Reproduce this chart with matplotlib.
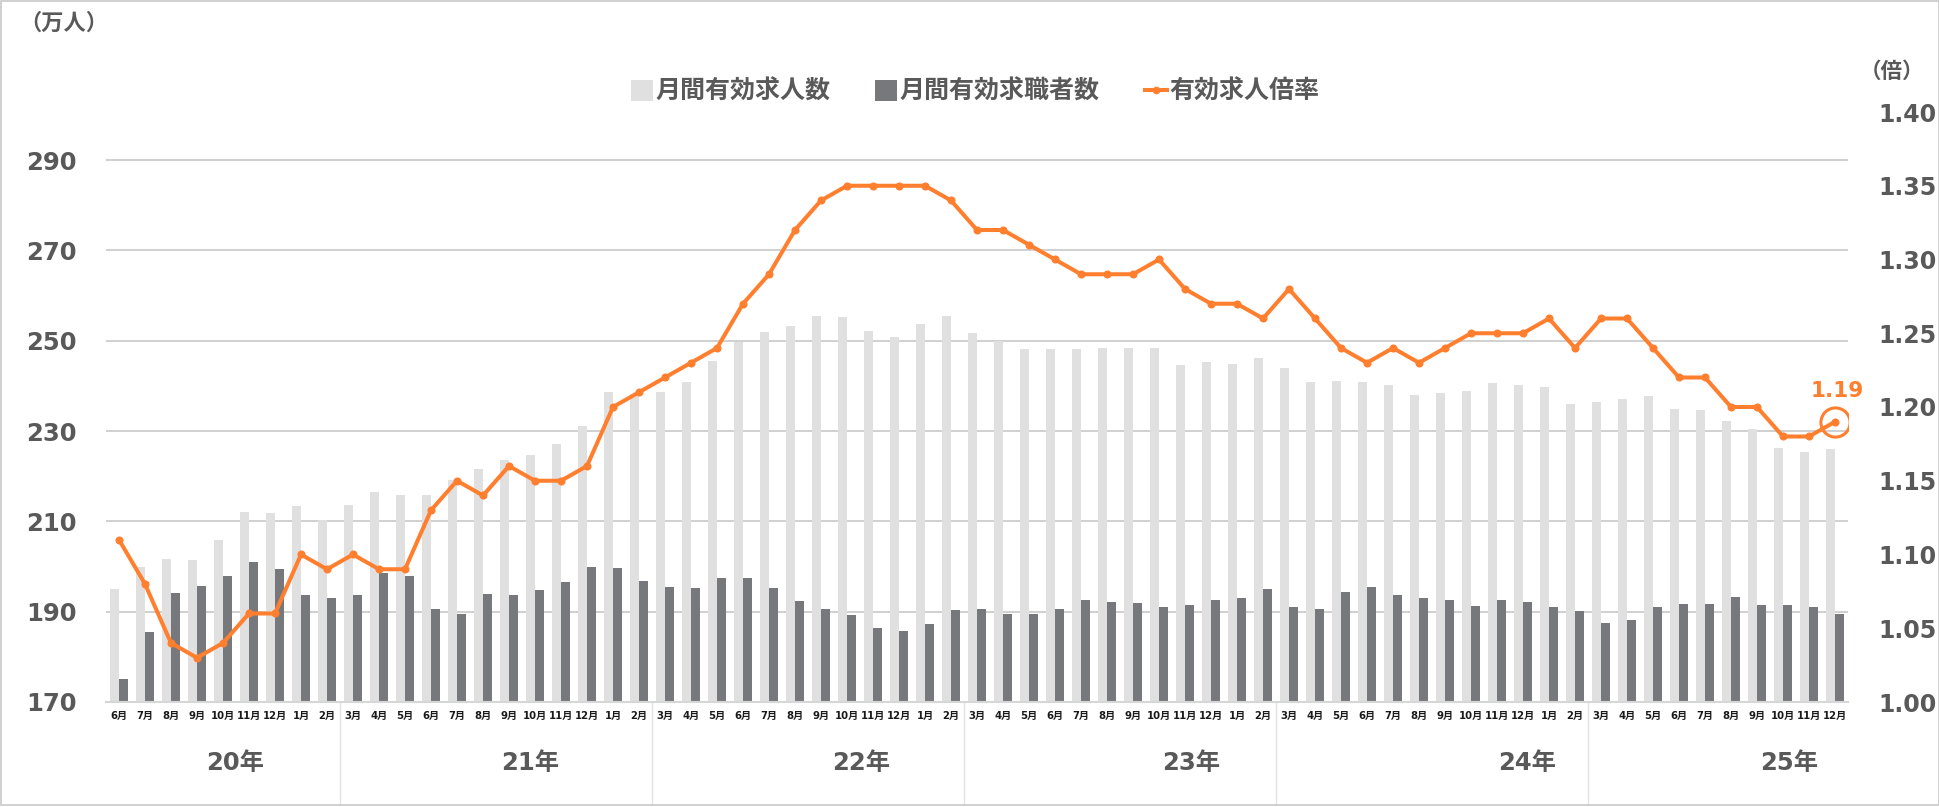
import matplotlib
matplotlib.use('Agg')
import matplotlib.pyplot as plt
from matplotlib import transforms
from matplotlib.patches import Patch, Rectangle
from matplotlib.lines import Line2D
import numpy as np

plt.rcParams['font.family'] = ['DejaVu Sans', 'Noto Sans CJK JP']
plt.rcParams['font.weight'] = 'bold'

# ---------------- data ----------------
year_labels = ['20年', '21年', '22年', '23年', '24年', '25年']
group_sizes = [9, 12, 12, 12, 12, 10]

month_labels = [
    '6月', '7月', '8月', '9月', '10月', '11月', '12月', '1月', '2月',
    '3月', '4月', '5月', '6月', '7月', '8月', '9月', '10月', '11月', '12月', '1月', '2月',
    '3月', '4月', '5月', '6月', '7月', '8月', '9月', '10月', '11月', '12月', '1月', '2月',
    '3月', '4月', '5月', '6月', '7月', '8月', '9月', '10月', '11月', '12月', '1月', '2月',
    '3月', '4月', '5月', '6月', '7月', '8月', '9月', '10月', '11月', '12月', '1月', '2月',
    '3月', '4月', '5月', '6月', '7月', '8月', '9月', '10月', '11月', '12月',
]

# 月間有効求人数 (万人)
job_openings = [
    195.0, 199.9, 201.6, 201.4, 205.8, 212.0, 211.8, 213.4, 210.3,
    213.6, 216.5, 215.8, 215.8, 219.1, 221.6, 223.6, 224.7, 227.1, 231.2, 238.7, 238.2,
    238.7, 240.9, 245.5, 249.8, 251.9, 253.3, 255.5, 255.3, 252.1, 250.8, 253.7, 255.6,
    251.7, 249.9, 248.2, 248.1, 248.2, 248.3, 248.3, 248.3, 244.6, 245.2, 244.9, 246.1,
    244.0, 240.9, 241.1, 240.8, 240.1, 238.0, 238.4, 238.9, 240.7, 240.2, 239.8, 235.9,
    236.4, 237.1, 237.8, 235.0, 234.7, 232.2, 230.5, 226.3, 225.4, 226.0,
]

# 月間有効求職者数 (万人)
job_seekers = [
    175.1, 185.4, 194.2, 195.8, 197.8, 200.9, 199.5, 193.6, 193.1,
    193.7, 198.6, 197.9, 190.6, 189.6, 193.9, 193.6, 194.8, 196.6, 199.8, 199.7, 196.7,
    195.4, 195.2, 197.5, 197.5, 195.2, 192.4, 190.6, 189.2, 186.3, 185.7, 187.2, 190.3,
    190.6, 189.4, 189.5, 190.6, 192.5, 192.1, 191.9, 191.0, 191.4, 192.5, 193.0, 195.0,
    191.0, 190.5, 194.4, 195.4, 193.6, 193.0, 192.7, 191.2, 192.5, 192.1, 191.0, 190.2,
    187.6, 188.2, 191.0, 191.6, 191.6, 193.2, 191.5, 191.5, 191.0, 189.5,
]

# 有効求人倍率 (倍)
ratio = [
    1.11, 1.08, 1.04, 1.03, 1.04, 1.06, 1.06, 1.10, 1.09,
    1.10, 1.09, 1.09, 1.13, 1.15, 1.14, 1.16, 1.15, 1.15, 1.16, 1.20, 1.21,
    1.22, 1.23, 1.24, 1.27, 1.29, 1.32, 1.34, 1.35, 1.35, 1.35, 1.35, 1.34,
    1.32, 1.32, 1.31, 1.30, 1.29, 1.29, 1.29, 1.30, 1.28, 1.27, 1.27, 1.26,
    1.28, 1.26, 1.24, 1.23, 1.24, 1.23, 1.24, 1.25, 1.25, 1.25, 1.26, 1.24,
    1.26, 1.26, 1.24, 1.22, 1.22, 1.20, 1.20, 1.18, 1.18, 1.19,
]

left_ticks = [170, 190, 210, 230, 250, 270, 290]
right_ticks = [1.00, 1.05, 1.10, 1.15, 1.20, 1.25, 1.30, 1.35, 1.40]
legend_labels = ['月間有効求人数', '月間有効求職者数', '有効求人倍率']

# ---------------- style / layout ----------------
LIGHT = '#E0E0E0'
DARK = '#76787B'
ORANGE = '#FF7F2F'
TEXT = '#595959'
W, H = 1940, 807

def fx(px):
    return px / W

def fy(py):
    return 1 - py / H

fig = plt.figure(figsize=(W / 100, H / 100), dpi=100)
ax_l, ax_r, ax_t, ax_b = 106, 1848, 112, 702
ax = fig.add_axes([fx(ax_l), fy(ax_b), (ax_r - ax_l) / W, (ax_b - ax_t) / H])

x = np.arange(len(month_labels))
bw = 0.36
ax.bar(x - bw / 2, job_openings, width=bw, color=LIGHT, zorder=2)
ax.bar(x + bw / 2, job_seekers, width=bw, color=DARK, zorder=2)
ax.set_xlim(-0.5, len(month_labels) - 0.5)
ax.set_ylim(170, 170 + (ax_b - ax_t) / 4.515)
ax.set_yticks(left_ticks)
ax.yaxis.grid(True, color='#C4C4C4', lw=1.1)
ax.yaxis.get_gridlines()[0].set_visible(False)
ax.set_axisbelow(True)
for s in ax.spines.values():
    s.set_visible(False)
ax.spines['bottom'].set_visible(True)
ax.spines['bottom'].set_color('#D6D6D6')
ax.spines['bottom'].set_linewidth(1.5)
ax.tick_params(axis='y', length=0, pad=21, labelsize=17.5, labelcolor=TEXT)
ax.set_xticks(x, month_labels)
ax.tick_params(axis='x', length=0, pad=6.5, labelsize=7.3, labelcolor='#1A1A1A')

ax2 = ax.twinx()
ax2.plot(x, ratio, color=ORANGE, lw=2.9, marker='o', ms=4.8, zorder=3)
ax2.set_ylim(1.00, 1.40)
ax2.set_yticks(right_ticks, [f'{v:.2f}' for v in right_ticks])
ax2.tick_params(axis='y', length=0, pad=22, labelsize=17, labelcolor=TEXT)
for s in ax2.spines.values():
    s.set_visible(False)
ax2.plot([x[-1]], [ratio[-1]], marker='o', ms=21, mfc='none', mec=ORANGE, mew=2.2,
         linestyle='none', zorder=4)
ax2.annotate(f'{ratio[-1]:.2f}', xy=(x[-1], ratio[-1]), xytext=(2, 31),
             textcoords='offset pixels', ha='center', va='center',
             color=ORANGE, fontsize=15.5, fontweight='bold')

# year group labels and separators
trans = transforms.blended_transform_factory(ax.transData, fig.transFigure)
year_label_x = [4.45, 15.8, 28.55, 41.25, 54.15, 64.25]
for lab, xp in zip(year_labels, year_label_x):
    ax.text(xp, fy(763), lab, transform=trans, ha='center', va='center',
            fontsize=17.5, color=TEXT, clip_on=False)
bounds = np.cumsum(group_sizes)[:-1] - 0.5
for b in bounds:
    ln = Line2D([b, b], [fy(702), fy(805)], transform=trans, color='#E3E3E3',
                lw=1.0, clip_on=False)
    ax.add_artist(ln)

# unit labels
fig.text(fx(64), fy(23), '（万人）', ha='center', va='center', fontsize=16, color=TEXT)
fig.text(fx(1892), fy(72), '（倍）', ha='center', va='center', fontsize=15.5, color=TEXT)

# legend
handles = [Patch(facecolor=LIGHT, edgecolor='none'),
           Patch(facecolor=DARK, edgecolor='none'),
           Line2D([], [], color=ORANGE, lw=2.9, marker='o', ms=4.5)]
fig.legend(handles, legend_labels, loc='center', bbox_to_anchor=(fx(975), fy(92)),
           ncol=3, frameon=False, prop={'size': 18, 'weight': 'bold'},
           labelcolor=TEXT, handlelength=0.88, handleheight=0.88,
           handletextpad=0.1, columnspacing=1.8, borderpad=0)

# outer border
fig.add_artist(Rectangle((fx(1), fy(805)), (W - 2) / W, 804 / H, transform=fig.transFigure,
                         fill=False, edgecolor='#C8C8C8', lw=1.2))

fig.savefig('out.png', dpi=100)
